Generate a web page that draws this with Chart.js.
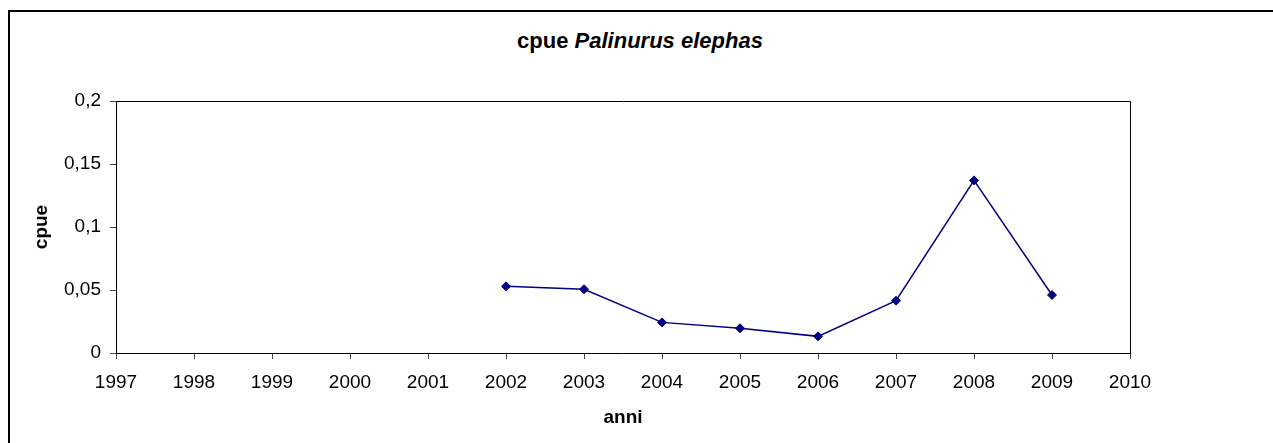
<!DOCTYPE html>
<html>
<head>
<meta charset="utf-8">
<script src="https://cdn.jsdelivr.net/npm/chart.js@4.4.0/dist/chart.umd.min.js"></script>
<style>
    html, body { margin: 0; padding: 0; background: #fff; overflow: hidden; }
    #wrap { position: relative; width: 1273px; height: 443px; }
    #frame { position: absolute; left: 8px; top: 10px; width: 2000px; height: 2000px;
             border-left: 2px solid #000; border-top: 2px solid #000; }
    #title { position: absolute; left: 0; top: 28px; width: 1280px; text-align: center;
             font: bold 22px "Liberation Sans", Arial, sans-serif; line-height: 26px; color: #000; }
    #cpueChart { position: absolute; left: 0; top: 0; }
</style>
</head>
<body>
<div id="wrap">
    <div id="frame"></div>
    <div id="title">cpue <i>Palinurus elephas</i></div>
    <canvas id="cpueChart" width="1273" height="443"></canvas>
</div>
<script>
// dati
var anni = [2002, 2003, 2004, 2005, 2006, 2007, 2008, 2009];
var cpue = [0.0529, 0.0506, 0.0243, 0.0196, 0.0132, 0.0415, 0.137, 0.046];

var xMin = 1997, xMax = 2010;
var yMin = 0, yMax = 0.2, yStep = 0.05;

Chart.defaults.font.family = '"Liberation Sans", Arial, sans-serif';
Chart.defaults.color = '#000';

//-------------
//- bordo area grafico (alto e destra) -
//-------------
var plotFrame = {
    id: 'plotFrame',
    afterDraw: function (chart) {
        var ca = chart.chartArea;
        var ctx = chart.ctx;
        ctx.save();
        ctx.strokeStyle = '#000';
        ctx.lineWidth = 1;
        ctx.beginPath();
        ctx.moveTo(Math.round(ca.left) + 0.5, Math.round(ca.top) + 0.5);
        ctx.lineTo(Math.round(ca.right) + 0.5, Math.round(ca.top) + 0.5);
        ctx.lineTo(Math.round(ca.right) + 0.5, Math.round(ca.bottom) + 0.5);
        ctx.stroke();
        ctx.restore();
    }
};

var points = anni.map(function (a, i) {
    return { x: a, y: cpue[i] };
});

var lineCanvas = document.getElementById('cpueChart').getContext('2d');

new Chart(lineCanvas, {
    type: 'line',
    data: {
        datasets: [
            {
                label: 'cpue',
                data: points,
                borderColor: '#000080',
                backgroundColor: '#000080',
                borderWidth: 1.5,
                pointStyle: 'rectRot',
                pointRadius: 4.5,
                pointBorderWidth: 1,
                pointBackgroundColor: '#000080',
                pointBorderColor: '#000080',
                tension: 0,
                fill: false
            }
        ]
    },
    options: {
        responsive: false,
        animation: false,
        layout: { padding: { left: 0, right: 143, top: 101, bottom: 0 } },
        plugins: {
            legend: { display: false },
            title: { display: false },
            tooltip: { enabled: false }
        },
        scales: {
            x: {
                type: 'linear',
                min: xMin,
                max: xMax,
                afterFit: function (scale) { scale.height = 90; },
                border: { display: true, color: '#000', width: 1 },
                grid: { drawOnChartArea: false, drawTicks: true, tickLength: 6, color: '#444' },
                ticks: {
                    stepSize: 1,
                    padding: 12,
                    font: { size: 19 },
                    maxRotation: 0,
                    callback: function (v) { return String(v); }
                },
                title: {
                    display: true,
                    text: 'anni',
                    font: { size: 19, weight: 'bold' },
                    padding: { top: 0, bottom: 14 }
                }
            },
            y: {
                min: yMin,
                max: yMax,
                afterFit: function (scale) { scale.width = 116; },
                border: { display: true, color: '#000', width: 1 },
                grid: { drawOnChartArea: false, drawTicks: true, tickLength: 6, color: '#444' },
                ticks: {
                    stepSize: yStep,
                    padding: 9,
                    font: { size: 19 },
                    callback: function (v) {
                        return String(Math.round(v * 100) / 100).replace('.', ',');
                    }
                },
                title: {
                    display: true,
                    text: 'cpue',
                    font: { size: 19, weight: 'bold' },
                    padding: { top: 30, bottom: 0 }
                }
            }
        }
    },
    plugins: [plotFrame]
});
</script>
</body>
</html>
